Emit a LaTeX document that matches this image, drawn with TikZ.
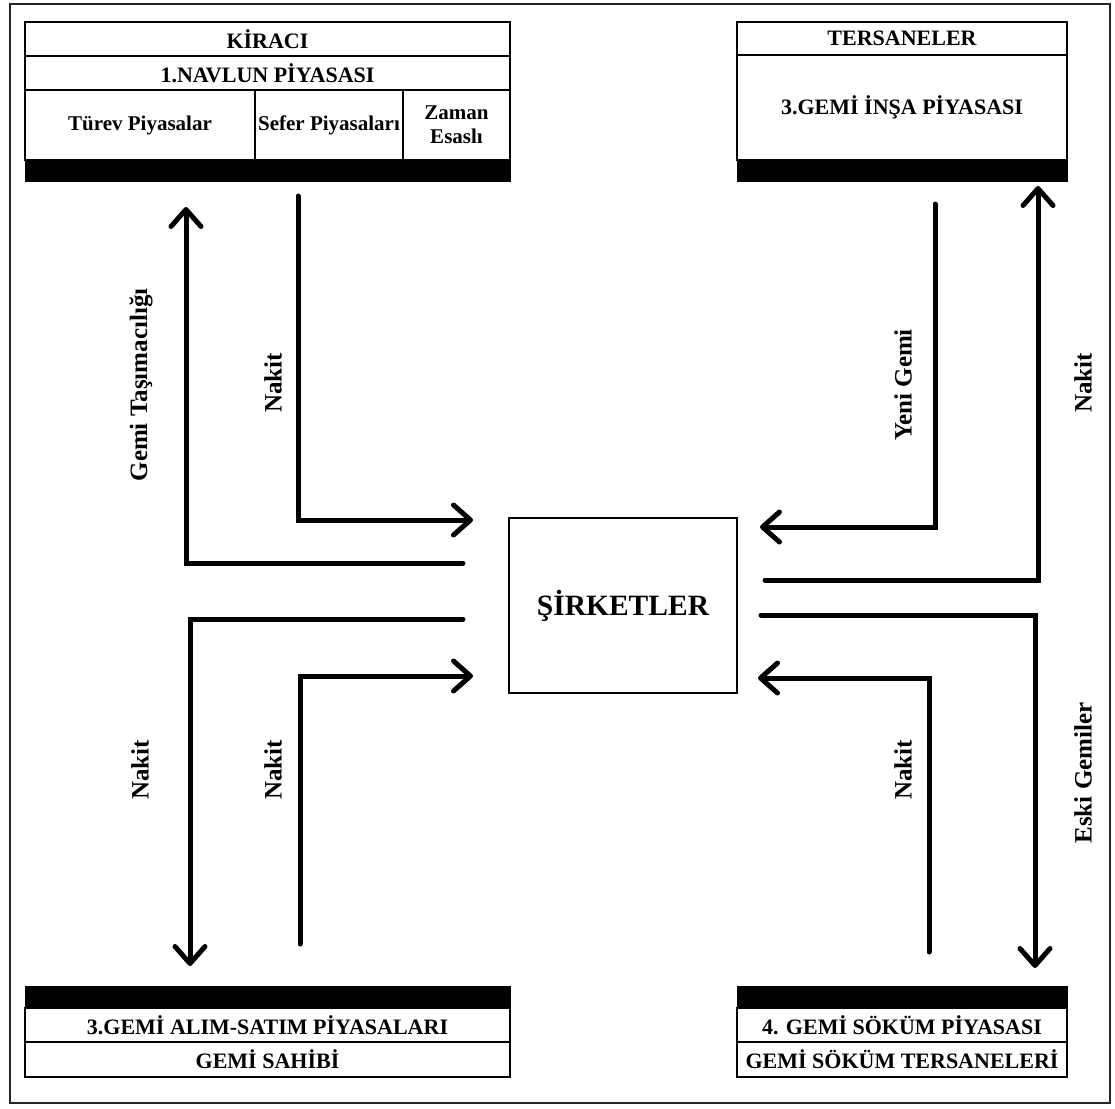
\documentclass[tikz,border=0pt]{standalone}
\usepackage{fontspec}
\setmainfont{Liberation Serif}
\usetikzlibrary{arrows.meta}
\begin{document}
\begin{tikzpicture}[x=1pt,y=-1pt,
  cell/.style={draw, line width=2.5pt, inner sep=0pt, outer sep=0pt, anchor=north west,
    font=\bfseries\fontsize{21}{24}\selectfont, align=center},
  capcell/.style={cell, font=\bfseries\fontsize{22}{24}\selectfont},
  bigcell/.style={cell, font=\bfseries\fontsize{29.5}{32}\selectfont},
  bar/.style={fill=black, draw=black, line width=1pt},
  flow/.style={line width=5pt, line cap=round, line join=miter},
  tip/.style={-{Straight Barb[length=17pt,width=30pt,line cap=round,line join=round]}},
  lab/.style={font=\bfseries\fontsize{25}{27}\selectfont, rotate=90, inner sep=0pt}]
\useasboundingbox (0,0) rectangle (1115,1108);
\draw[line width=2pt, black!85] (10,4) rectangle (1110,1103);

% top-left block
\node[capcell, minimum width=485pt, minimum height=34pt] (kir) at (25,22) {KİRACI};
\node[capcell, minimum width=485pt, minimum height=34pt] (nav) at (25,56) {1.NAVLUN PİYASASI};
\node[cell, minimum width=230pt, minimum height=70pt] (tur) at (25,90) {Türev Piyasalar};
\node[cell, minimum width=148pt, minimum height=70pt] (sef) at (255,90) {Sefer Piyasaları};
\node[cell, minimum width=107pt, minimum height=70pt] (zam) at (403,90) {Zaman\\Esaslı};
\draw[bar] (25,160) rectangle (510,181);

% top-right block
\node[capcell, minimum width=330pt, minimum height=33pt] (ter) at (737,22) {TERSANELER};
\node[capcell, minimum width=330pt, minimum height=105pt] (ins) at (737,55) {3.GEMİ İNŞA PİYASASI};
\draw[bar] (737,160) rectangle (1067,181);

% bottom-left block
\draw[bar] (25,986) rectangle (510,1008);
\node[capcell, minimum width=485pt, minimum height=34pt] (alim) at (25,1008) {3.GEMİ ALIM-SATIM PİYASALARI};
\node[capcell, minimum width=485pt, minimum height=35pt] (sah) at (25,1042) {GEMİ SAHİBİ};

% bottom-right block
\draw[bar] (737,986) rectangle (1067,1008);
\node[capcell, minimum width=330pt, minimum height=34pt] (sok) at (737,1008) {4. GEMİ SÖKÜM PİYASASI};
\node[capcell, minimum width=330pt, minimum height=35pt] (tsan) at (737,1042) {GEMİ SÖKÜM TERSANELERİ};

% centre
\node[bigcell, minimum width=228pt, minimum height=175pt] (sirk) at (509,518) {ŞİRKETLER};

% connector end points
\coordinate (a1) at (463,563);  \coordinate (b1) at (186,207);
\coordinate (a2) at (298,196);  \coordinate (b2) at (473,520);
\coordinate (a3) at (463,619);  \coordinate (b3) at (190,966);
\coordinate (a4) at (300,944);  \coordinate (b4) at (473,676);
\coordinate (a5) at (935,204);  \coordinate (b5) at (760,527);
\coordinate (a6) at (765,580);  \coordinate (b6) at (1038,186);
\coordinate (a7) at (761,615);  \coordinate (b7) at (1035,968);
\coordinate (a8) at (929,952);  \coordinate (b8) at (758,678);

\draw[flow,tip] (a1) -| (b1);
\draw[flow,tip] (a2) |- (b2);
\draw[flow,tip] (a3) -| (b3);
\draw[flow,tip] (a4) |- (b4);
\draw[flow,tip] (a5) |- (b5);
\draw[flow,tip] (a6) -| (b6);
\draw[flow,tip] (a7) -| (b7);
\draw[flow,tip] (a8) |- (b8);

% labels
\node[lab] (l1) at (141,385) {Gemi Taşımacılığı};
\node[lab] (l2) at (273,383) {Nakit};
\node[lab] (l3) at (903,385) {Yeni Gemi};
\node[lab] (l4) at (1083,383) {Nakit};
\node[lab] (l5) at (140,770) {Nakit};
\node[lab] (l6) at (273,770) {Nakit};
\node[lab] (l7) at (903,770) {Nakit};
\node[lab] (l8) at (1083,773) {Eski Gemiler};
\end{tikzpicture}
\end{document}
